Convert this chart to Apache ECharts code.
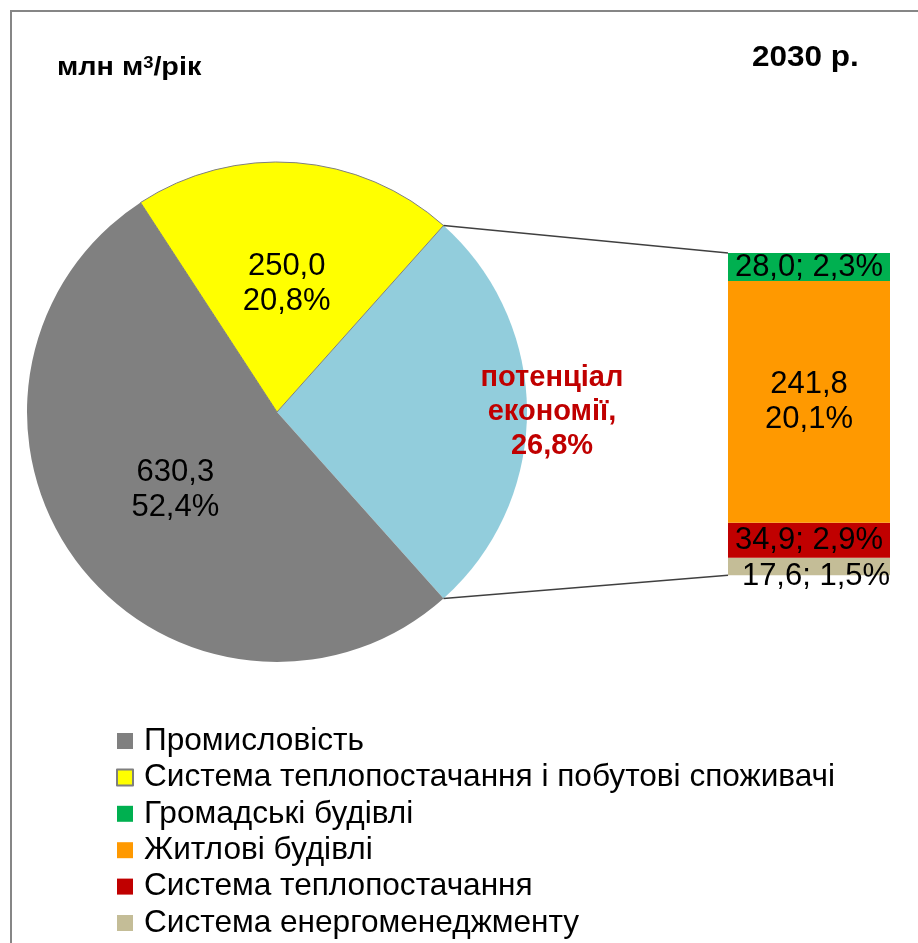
<!DOCTYPE html>
<html>
<head>
<meta charset="utf-8">
<script src="https://cdn.jsdelivr.net/npm/echarts@6/dist/echarts.min.js"></script>
<style>
  html, body { margin: 0; padding: 0; background: #fff; }
  #chart { width: 918px; height: 943px; }
</style>
</head>
<body>
<div id="chart"></div>
<script>
// Споживання природного газу у 2030 р., млн м³/рік: структура та потенціал економії
const FONT = "'Liberation Sans', Arial, sans-serif";

// Pie: saving potential first so that it sits centred on the right-hand side
const industryName = 'Промисловість';
const industryValue = 630.3;
const heatingName = 'Система теплопостачання і побутові споживачі';
const heatingValue = 250.0;
const savingName = 'потенціал економії';

// Breakdown of the saving potential, stacked bottom → top
const savingNames = ['Система енергоменеджменту', 'Система теплопостачання', 'Житлові будівлі', 'Громадські будівлі'];
const savingValues = [17.6, 34.9, 241.8, 28.0];
const savingColors = ['#c4bd97', '#c00000', '#ff9900', '#00b050'];

const legendOrder = [
  'Промисловість',
  'Система теплопостачання і побутові споживачі',
  'Громадські будівлі',
  'Житлові будівлі',
  'Система теплопостачання',
  'Система енергоменеджменту'
];

const savingTotal = savingValues.reduce((a, b) => a + b, 0);
const grandTotal = industryValue + heatingValue + savingTotal;

const fmt = v => v.toFixed(1).replace('.', ',');
const pct = v => fmt(v / grandTotal * 100) + '%';

const PIE_CENTER = [277, 412];
const PIE_RADIUS = 250;
const startAngle = savingTotal / grandTotal * 180;

const chart = echarts.init(document.getElementById('chart'), null, { renderer: 'canvas' });

const barSeries = savingNames.map((name, i) => {
  const twoLines = savingValues[i] > 100;
  const label = {
    show: true,
    position: 'inside',
    color: '#000',
    fontSize: 31,
    fontFamily: FONT,
    lineHeight: 35,
    formatter: p => twoLines ? fmt(p.value) + '\n' + pct(p.value) : fmt(p.value) + '; ' + pct(p.value)
  };
  if (i === 0) label.offset = [7, 10];
  return {
    type: 'bar',
    name: name,
    stack: 'saving',
    data: [savingValues[i]],
    barWidth: '100%',
    itemStyle: { color: savingColors[i] },
    label: label,
    silent: true
  };
});

const option = {
  animation: false,
  backgroundColor: '#fff',
  textStyle: { fontFamily: FONT },
  legend: {
    data: legendOrder,
    orient: 'vertical',
    left: 116,
    top: 725,
    width: 780,
    height: 218,
    padding: 0,
    icon: 'rect',
    itemWidth: 16,
    itemHeight: 16,
    itemGap: 4.4,
    selectedMode: false,
    textStyle: { fontSize: 31.6, color: '#000', fontFamily: FONT, padding: [0, 0, 0, 6] }
  },
  grid: { left: 728, right: 28, top: 253, height: savingTotal, containLabel: false },
  xAxis: { type: 'category', data: ['економія'], show: false },
  yAxis: { type: 'value', min: 0, max: savingTotal, show: false },
  series: [
    {
      type: 'pie',
      center: PIE_CENTER,
      radius: PIE_RADIUS,
      startAngle: startAngle,
      clockwise: true,
      silent: true,
      label: {
        show: true,
        position: 'inside',
        color: '#000',
        fontSize: 31,
        lineHeight: 35,
        fontFamily: FONT,
        formatter: p => fmt(p.value) + '\n' + pct(p.value)
      },
      labelLine: { show: false },
      data: [
        { name: savingName, value: savingTotal, itemStyle: { color: '#92cddc' }, label: { show: false } },
        { name: industryName, value: industryValue, itemStyle: { color: '#808080' } },
        {
          name: heatingName, value: heatingValue,
          itemStyle: { color: '#ffff00', borderColor: '#7f7f7f', borderWidth: 1 },
          label: { padding: [14, 0, 0, 0] }
        }
      ]
    },
    ...barSeries
  ]
};

chart.setOption(option);

// Connector lines from the saving slice edges to the stacked column
const a = startAngle * Math.PI / 180;
const edgeTop = [PIE_CENTER[0] + PIE_RADIUS * Math.cos(a), PIE_CENTER[1] - PIE_RADIUS * Math.sin(a)];
const edgeBottom = [PIE_CENTER[0] + PIE_RADIUS * Math.cos(a), PIE_CENTER[1] + PIE_RADIUS * Math.sin(a)];
const colTop = chart.convertToPixel({ yAxisIndex: 0 }, savingTotal);
const colBottom = chart.convertToPixel({ yAxisIndex: 0 }, 0);
const colLeft = 728;

chart.setOption({
  graphic: [
    {
      type: 'rect',
      shape: { x: 11, y: 11, width: 1000, height: 1000 },
      style: { fill: 'none', stroke: '#868686', lineWidth: 2 },
      silent: true
    },
    {
      type: 'text',
      x: 57, y: 81,
      scaleX: 1.15,
      z: 100,
      style: {
        text: '{a|млн м}{s|3}{a|/рік}',
        textVerticalAlign: 'bottom',
        rich: {
          a: { fontSize: 25, fontWeight: 'bold', fontFamily: FONT, fill: '#000' },
          s: { fontSize: 16, fontWeight: 'bold', fontFamily: FONT, fill: '#000', verticalAlign: 'top' }
        }
      }
    },
    {
      type: 'text',
      x: 752, y: 58,
      scaleX: 1.05,
      z: 100,
      style: {
        text: '2030 р.',
        fontSize: 30, fontWeight: 'bold', fontFamily: FONT, fill: '#000',
        textVerticalAlign: 'middle'
      }
    },
    {
      type: 'text',
      x: 552, y: 412,
      z: 100,
      style: {
        text: 'потенціал\nекономії,\n' + pct(savingTotal),
        fontSize: 29, fontWeight: 'bold', fontFamily: FONT, fill: '#c00000',
        lineHeight: 34,
        textAlign: 'center', textVerticalAlign: 'middle'
      }
    },
    {
      type: 'line',
      z: 100,
      shape: { x1: edgeTop[0], y1: edgeTop[1], x2: colLeft, y2: colTop },
      style: { stroke: '#404040', lineWidth: 1.5 }
    },
    {
      type: 'line',
      z: 100,
      shape: { x1: edgeBottom[0], y1: edgeBottom[1], x2: colLeft, y2: colBottom },
      style: { stroke: '#404040', lineWidth: 1.5 }
    }
  ]
});
</script>
</body>
</html>
